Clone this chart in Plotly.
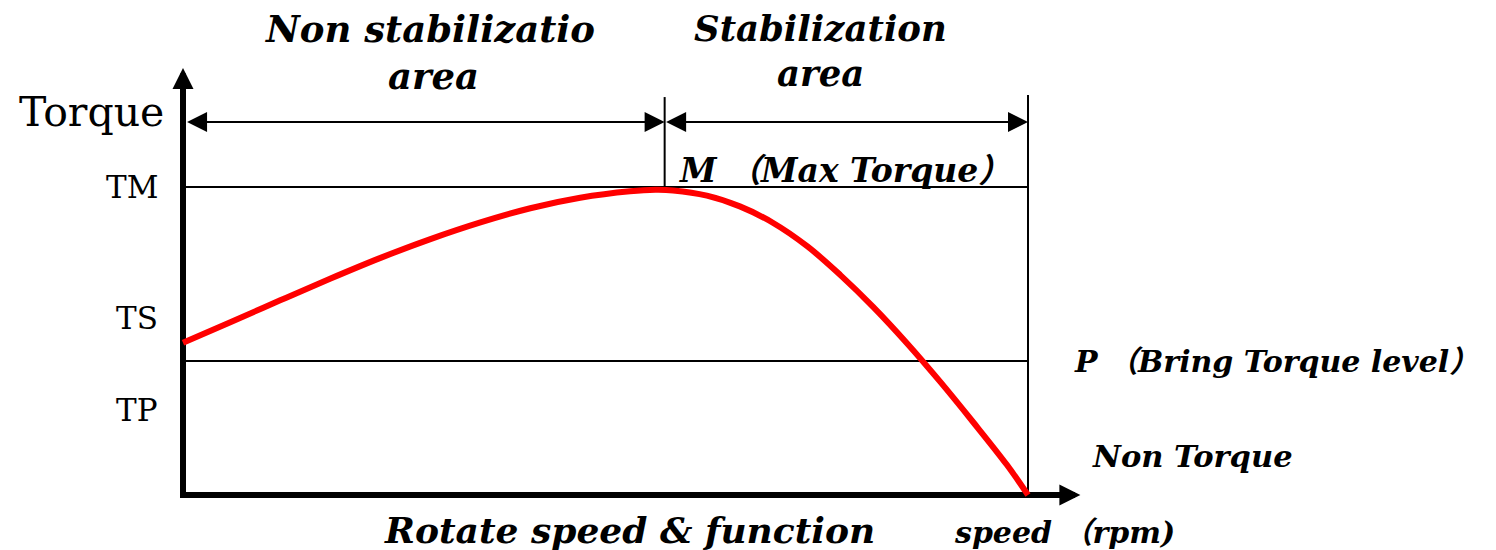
import plotly.graph_objects as go

# ---- data (speed in % of no-load speed, torque in % of max torque) ----
speed = [0, 5.6, 11.5, 17.4, 23.3, 29.2, 35.2, 41.1, 47.0, 52.9, 55.9, 58.0,
         62.0, 65.9, 69.8, 73.9, 77.8, 81.7, 85.7, 89.6, 93.5, 97.5, 100]
torque = [49.4, 56.1, 63.2, 70.2, 76.9, 83.0, 88.5, 93.1, 96.5, 98.6, 99.1, 98.9,
          97.2, 93.7, 88.4, 80.7, 71.4, 61.0, 49.2, 36.8, 23.7, 9.8, 0]

tick_labels = ["TM", "TS", "TP"]
tick_values = [100, 57.5, 27.6]

max_torque = 100
bring_torque = 43.5
max_torque_speed = 57.0
no_load_speed = 100

region_labels = ["Non stabilizatio", "Stabilization"]
region_centers = [29.2, 75.4]

# canvas mapping (full-page plot area)
X_RANGE = [-21.657, 155.385]
Y_RANGE = [-17.857, 160.714]

SERIF = "DejaVu Serif, Noto Sans CJK SC"

fig = go.Figure()
fig.add_trace(go.Scatter(
    x=speed, y=torque, mode="lines",
    line=dict(color="#ff0000", width=6, shape="spline", smoothing=1.0),
    hoverinfo="skip", showlegend=False,
))

shapes = []
# axes (thick)
shapes.append(dict(type="line", xref="x", yref="y", x0=0, x1=0, y0=-1.0, y1=132,
                   line=dict(color="black", width=6), layer="below"))
shapes.append(dict(type="line", xref="x", yref="y", x0=-0.35, x1=102, y0=0, y1=0,
                   line=dict(color="black", width=6), layer="below"))
# TM level
shapes.append(dict(type="line", xref="x", yref="y", x0=0, x1=no_load_speed, y0=max_torque, y1=max_torque,
                   line=dict(color="black", width=2), layer="below"))
# P level
shapes.append(dict(type="line", xref="x", yref="y", x0=0, x1=no_load_speed, y0=bring_torque, y1=bring_torque,
                   line=dict(color="black", width=2), layer="below"))
# vertical at max torque point
shapes.append(dict(type="line", xref="x", yref="y", x0=max_torque_speed, x1=max_torque_speed, y0=max_torque, y1=129.2,
                   line=dict(color="black", width=2), layer="below"))
# vertical at no-load speed
shapes.append(dict(type="line", xref="x", yref="y", x0=no_load_speed, x1=no_load_speed, y0=0, y1=129.9,
                   line=dict(color="black", width=2), layer="below"))

ann = []
# axis arrowheads
ann.append(dict(x=0, y=138.6, ax=0, ay=125, xref="x", yref="y", axref="x", ayref="y",
                showarrow=True, arrowhead=2, arrowwidth=6, arrowsize=0.7, arrowcolor="black", text=""))
ann.append(dict(x=106.2, y=0, ax=101, ay=0, xref="x", yref="y", axref="x", ayref="y",
                showarrow=True, arrowhead=2, arrowwidth=6, arrowsize=0.7, arrowcolor="black", text=""))
# region double arrows
arrow_y = 121.1
for a, b in [(0.3, max_torque_speed), (max_torque_speed, no_load_speed)]:
    ann.append(dict(x=b, y=arrow_y, ax=a, ay=arrow_y, xref="x", yref="y", axref="x", ayref="y",
                    showarrow=True, arrowside="end+start", arrowhead=2, startarrowhead=2,
                    arrowwidth=2, arrowsize=2.0, startarrowsize=2.0, arrowcolor="black", text=""))

bi = dict(family=SERIF, size=37, color="black", weight="bold", style="italic")

def txt(x, y, s, font, xanchor="center"):
    ann.append(dict(x=x, y=y, xref="x", yref="y", text=s, showarrow=False,
                    xanchor=xanchor, yanchor="middle", font=font))

# region titles
txt(region_centers[0], 151.3, region_labels[0], bi)
txt(region_centers[0] + 0.5, 136.0, "area", bi)
txt(region_centers[1], 151.6, region_labels[1], dict(bi, size=35.5))
txt(region_centers[1], 136.7, "area", dict(bi, size=35.5))

# point labels
txt(58.5, 105.2, "M （Max Torque）", dict(bi, size=33), xanchor="left")
txt(105.2, 43.2, "P （Bring Torque level）", dict(bi, size=30), xanchor="left")
txt(107.3, 12.7, "Non Torque", dict(bi, size=30.5), xanchor="left")

# axis texts
txt(52.8, -11.4, "Rotate speed &amp; function", dict(bi, size=36))
txt(91.0, -12.3, "speed （rpm)", dict(bi, size=30), xanchor="left")

reg = dict(family=SERIF, size=31, color="black")
txt(-2.0, 124.4, "Torque", dict(reg, size=41), xanchor="right")
for lab, val in zip(tick_labels, tick_values):
    txt(-2.7, val, lab, reg, xanchor="right")

fig.update_layout(
    width=1496, height=550,
    margin=dict(l=0, r=0, t=0, b=0),
    paper_bgcolor="white", plot_bgcolor="white",
    xaxis=dict(range=X_RANGE, visible=False, fixedrange=True),
    yaxis=dict(range=Y_RANGE, visible=False, fixedrange=True),
    shapes=shapes, annotations=ann,
)

fig.write_html("out.html", config={"displayModeBar": False},
               post_script="document.body.style.margin='0';document.body.style.overflow='hidden';")
